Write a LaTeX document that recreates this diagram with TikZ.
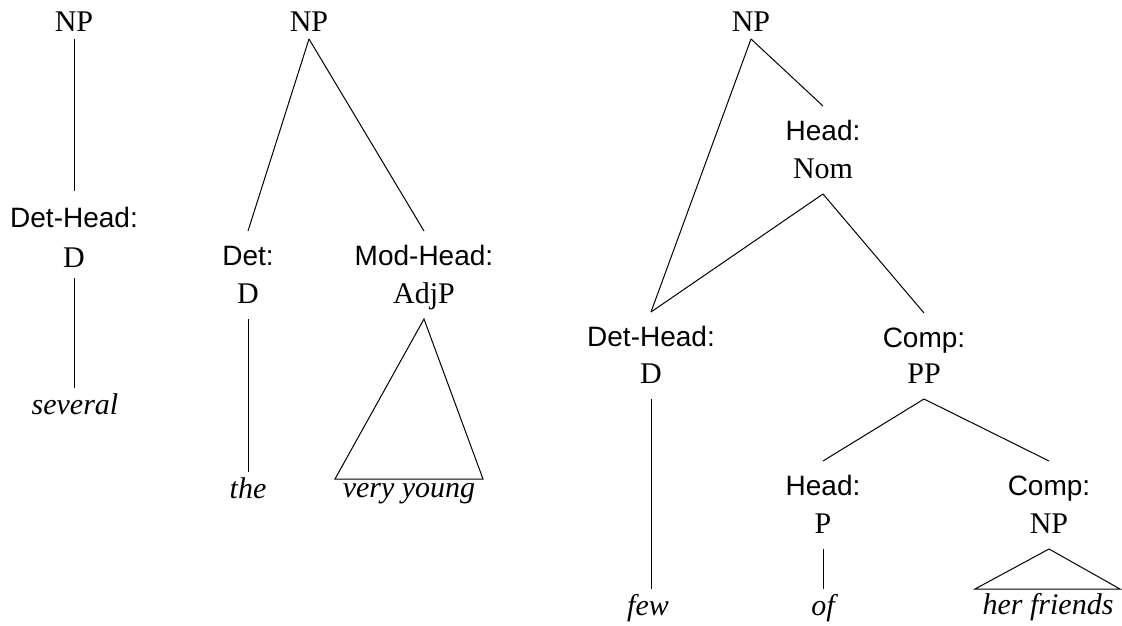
\documentclass[tikz,border=0pt]{standalone}
\usepackage{fontspec}
\setmainfont{Liberation Serif}
\newfontfamily\lsans{Liberation Sans}
\begin{document}
\begin{tikzpicture}[x=1pt,y=-1pt,
  lbl/.style={anchor=base, inner sep=0pt, text depth=0pt, text height=20pt},
  func/.style={lbl, font=\lsans\fontsize{28}{30}\selectfont, outer ysep=14pt},
  cat/.style={lbl, font=\fontsize{30}{32}\selectfont, outer ysep=16pt},
  root/.style={cat, outer ysep=7pt},
  leaf/.style={anchor=base, inner sep=0pt, text depth=0pt, text height=0pt, outer ysep=26pt, font=\itshape\fontsize{30}{32}\selectfont},
  branch/.style={draw=black, line width=1pt}
]
\useasboundingbox (0,0) rectangle (1122,626);

% Tree 1
\node[root] (np1) at (74,32) {NP};
\node[func, outer ysep=16pt] (f1) at (74,227) {Det-Head:};
\node[cat, outer ysep=11pt] (c1) at (74,267) {D};
\node[leaf] (w1) at (75,414) {several};
\path[branch] (np1.south) -- (f1.north);
\path[branch] (c1.south) -- (c1.south |- w1.north);

% Tree 2
\node[root] (np2) at (309,32) {NP};
\node[func] (f2a) at (248,265) {Det:};
\node[cat] (c2a) at (248,303) {D};
\node[func] (f2b) at (424,265) {Mod-Head:};
\node[cat] (c2b) at (424,303) {AdjP};
\node[leaf] (w2a) at (248,498) {the};
\node[leaf] (w2b) at (409,497) {very young};
\path[branch] (np2.south) -- (f2a.north);
\path[branch] (np2.south) -- (f2b.north);
\path[branch] (c2a.south) -- (c2a.south |- w2a.north);
\path[branch] (c2b.south) -- ([xshift=-74pt,yshift=18pt]w2b.base) -- ([xshift=74pt,yshift=18pt]w2b.base) -- cycle;

% Tree 3
\node[root] (np3) at (751,32) {NP};
\node[func] (f3a) at (823,140) {Head:};
\node[cat] (c3a) at (823,178) {Nom};
\node[func] (f3b) at (651,346) {Det-Head:};
\node[cat] (c3b) at (651,383) {D};
\node[func] (f3c) at (924,347) {Comp:};
\node[cat] (c3c) at (924,383) {PP};
\node[func] (f3d) at (823,495) {Head:};
\node[cat] (c3d) at (823,533) {P};
\node[func] (f3e) at (1049,495) {Comp:};
\node[cat] (c3e) at (1049,533) {NP};
\node[leaf] (w3a) at (648,615) {few};
\node[leaf] (w3b) at (823,615) {of};
\node[leaf] (w3c) at (1048,614) {her friends};
\path[branch] (np3.south) -- (f3a.north);
\path[branch] (np3.south) -- (f3b.north);
\path[branch] (c3a.south) -- (f3b.north);
\path[branch] (c3a.south) -- (f3c.north);
\path[branch] (c3b.south) -- (c3b.south |- w3a.north);
\path[branch] (c3c.south) -- (f3d.north);
\path[branch] (c3c.south) -- (f3e.north);
\path[branch] (c3d.south) -- (c3d.south |- w3b.north);
\path[branch] (c3e.south) -- ([xshift=-73pt,yshift=25pt]w3c.base) -- ([xshift=72pt,yshift=25pt]w3c.base) -- cycle;
\end{tikzpicture}
\end{document}
